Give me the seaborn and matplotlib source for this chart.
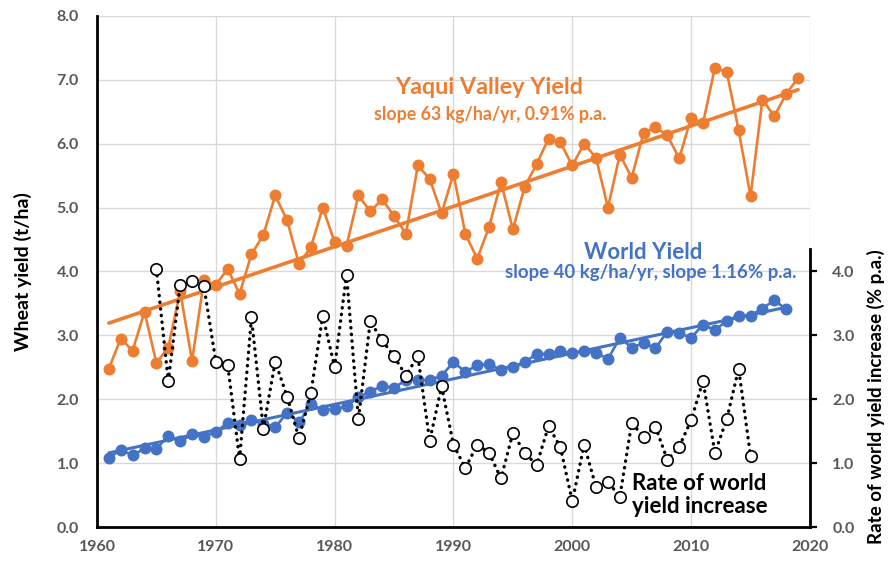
import numpy as np
import pandas as pd
import matplotlib
matplotlib.use("Agg")
import matplotlib.pyplot as plt
from matplotlib.ticker import FormatStrFormatter
import seaborn as sns

# ---- data -------------------------------------------------------------
yaqui_years = list(range(1961, 2020))
yaqui_yield = [2.48, 2.95, 2.76, 3.37, 2.57, 2.81, 3.69, 2.60, 3.86, 3.79,
               4.04, 3.65, 4.27, 4.57, 5.19, 4.80, 4.12, 4.38, 5.00, 4.46,
               4.40, 5.19, 4.94, 5.13, 4.87, 4.59, 5.66, 5.45, 4.91, 5.53,
               4.59, 4.20, 4.70, 5.40, 4.66, 5.33, 5.68, 6.08, 6.02, 5.66,
               6.00, 5.78, 5.00, 5.83, 5.47, 6.17, 6.26, 6.13, 5.77, 6.41,
               6.32, 7.19, 7.12, 6.21, 5.18, 6.69, 6.43, 6.78, 7.03]

world_years = list(range(1961, 2019))
world_yield = [1.08, 1.21, 1.12, 1.23, 1.22, 1.43, 1.34, 1.45, 1.41, 1.49,
               1.63, 1.60, 1.68, 1.62, 1.56, 1.79, 1.64, 1.92, 1.83, 1.84,
               1.89, 2.03, 2.12, 2.21, 2.18, 2.30, 2.30, 2.30, 2.37, 2.58,
               2.43, 2.53, 2.55, 2.46, 2.51, 2.58, 2.71, 2.71, 2.75, 2.72,
               2.75, 2.73, 2.63, 2.96, 2.81, 2.88, 2.80, 3.06, 3.04, 2.96,
               3.17, 3.08, 3.23, 3.31, 3.31, 3.42, 3.55, 3.41]

rate_years = list(range(1965, 2016))
rate_pct = [4.04, 2.28, 3.79, 3.85, 3.77, 2.59, 2.54, 1.06, 3.28, 1.54,
            2.59, 2.04, 1.39, 2.10, 3.31, 2.50, 3.95, 1.69, 3.22, 2.92,
            2.67, 2.37, 2.68, 1.35, 2.20, 1.29, 0.92, 1.29, 1.16, 0.76,
            1.47, 1.16, 0.97, 1.58, 1.25, 0.40, 1.29, 0.62, 0.71, 0.47,
            1.63, 1.41, 1.57, 1.05, 1.26, 1.67, 2.29, 1.16, 1.69, 2.48, 1.11]

# trend slopes (kg/ha/yr) and relative growth (% p.a.)
yaqui_slope_kg = 63
yaqui_pct = 0.91
world_slope_kg = 40
world_pct = 1.16

x_ticks = [1960, 1970, 1980, 1990, 2000, 2010, 2020]
left_ticks = [0, 1, 2, 3, 4, 5, 6, 7, 8]
right_ticks = [0, 1, 2, 3, 4]

# ---- styling ----------------------------------------------------------
sns.set_style("white")
plt.rcParams["font.family"] = ["Lato", "DejaVu Sans"]
plt.rcParams["font.weight"] = "bold"

ORANGE = "#ED7D31"
BLUE = "#4472C4"
GREY_TXT = "#595959"
GRID = "#D9D9D9"


def trend(years, values, slope_kg):
    """Line with the given slope through the centroid of the series."""
    yrs = np.asarray(years, dtype=float)
    vals = np.asarray(values, dtype=float)
    slope = slope_kg / 1000.0
    return pd.DataFrame({"year": yrs,
                         "value": vals.mean() + slope * (yrs - yrs.mean())})


yaqui_df = pd.DataFrame({"year": yaqui_years, "value": yaqui_yield})
world_df = pd.DataFrame({"year": world_years, "value": world_yield})
rate_df = pd.DataFrame({"year": rate_years, "value": rate_pct})
yaqui_tr = trend(yaqui_years, yaqui_yield, yaqui_slope_kg)
world_tr = trend(world_years, world_yield, world_slope_kg)

fig = plt.figure(figsize=(8.93, 5.61), dpi=100)
ax = fig.add_axes([0.1086, 0.0606, 0.7984, 0.9109])

# yield series on the left axis
sns.lineplot(data=yaqui_df, x="year", y="value", ax=ax, color=ORANGE,
             linewidth=1.9, marker="o", markersize=8.6, markeredgewidth=0,
             zorder=3)
sns.lineplot(data=yaqui_tr, x="year", y="value", ax=ax, color=ORANGE,
             linewidth=2.6, zorder=3)
sns.lineplot(data=world_df, x="year", y="value", ax=ax, color=BLUE,
             linewidth=1.9, marker="o", markersize=8.6, markeredgewidth=0,
             zorder=3)
sns.lineplot(data=world_tr, x="year", y="value", ax=ax, color=BLUE,
             linewidth=2.2, zorder=3)

ax.set_xlim(1960, 2020)
ax.set_ylim(0, 8)
ax.set_xticks(x_ticks)
ax.set_yticks(left_ticks)
ax.yaxis.set_major_formatter(FormatStrFormatter("%.1f"))
ax.grid(True, color=GRID, linewidth=1.0)
ax.set_axisbelow(True)
for side in ("top", "right"):
    ax.spines[side].set_visible(False)
for side in ("left", "bottom"):
    ax.spines[side].set_color("black")
    ax.spines[side].set_linewidth(2.0)
ax.tick_params(axis="both", length=0, labelcolor=GREY_TXT, labelsize=11.5)
ax.tick_params(axis="y", pad=13)
ax.tick_params(axis="x", pad=9)
for lbl in ax.get_xticklabels() + ax.get_yticklabels():
    lbl.set_fontweight("bold")
ax.set_xlabel("")
ax.set_ylabel("Wheat yield (t/ha)", fontsize=14, fontweight="bold",
              color="black")
ax.yaxis.set_label_coords(-0.091, 0.5)

# growth-rate series on the right axis (same scale)
ax2 = ax.twinx()
sns.lineplot(data=rate_df, x="year", y="value", ax=ax2, color="black",
             linewidth=2.4, linestyle=(0, (0.1, 1.9)), dash_capstyle="round",
             marker="o", markersize=8.2, markerfacecolor="white",
             markeredgecolor="black", markeredgewidth=1.2, zorder=4)
ax2.set_ylim(0, 8)
ax2.set_yticks(right_ticks)
ax2.yaxis.set_major_formatter(FormatStrFormatter("%.1f"))
for side in ("top", "left", "bottom"):
    ax2.spines[side].set_visible(False)
ax2.spines["right"].set_color("black")
ax2.spines["right"].set_linewidth(2.0)
ax2.spines["right"].set_bounds(0, 4.35)
ax2.tick_params(axis="y", direction="out", length=5, width=1.6,
                color="black", pad=11, labelcolor=GREY_TXT, labelsize=11.5)
for lbl in ax2.get_yticklabels():
    lbl.set_fontweight("bold")
ax2.set_ylabel("Rate of world yield increase (% p.a.)", fontsize=13.5,
               fontweight="bold", color="black")
ax2.yaxis.set_label_coords(1.080, 0.256)
ax2.set_xlim(1960, 2020)

# annotations
ax.text(1993.0, 6.88, "Yaqui Valley Yield", color=ORANGE, fontsize=16.8,
        fontweight="bold", ha="center", va="center", zorder=5)
ax.text(1993.1, 6.46,
        f"slope {yaqui_slope_kg} kg/ha/yr, {yaqui_pct:.2f}% p.a.",
        color=ORANGE, fontsize=12.8, fontweight="bold", ha="center",
        va="center", zorder=5)
ax.text(2006.0, 4.29, "World Yield", color=BLUE, fontsize=16,
        fontweight="bold", ha="center", va="center", zorder=5)
ax.text(2018.9, 3.98,
        f"slope {world_slope_kg} kg/ha/yr, slope {world_pct:.2f}% p.a.",
        color=BLUE, fontsize=13.4, fontweight="bold", ha="right",
        va="center", zorder=5)
ax2.text(2005.0, 0.50, "Rate of world\nyield increase", color="black",
         fontsize=16, fontweight="bold", ha="left", va="center",
         linespacing=1.15, zorder=5)

fig.savefig("out.png", dpi=100)
